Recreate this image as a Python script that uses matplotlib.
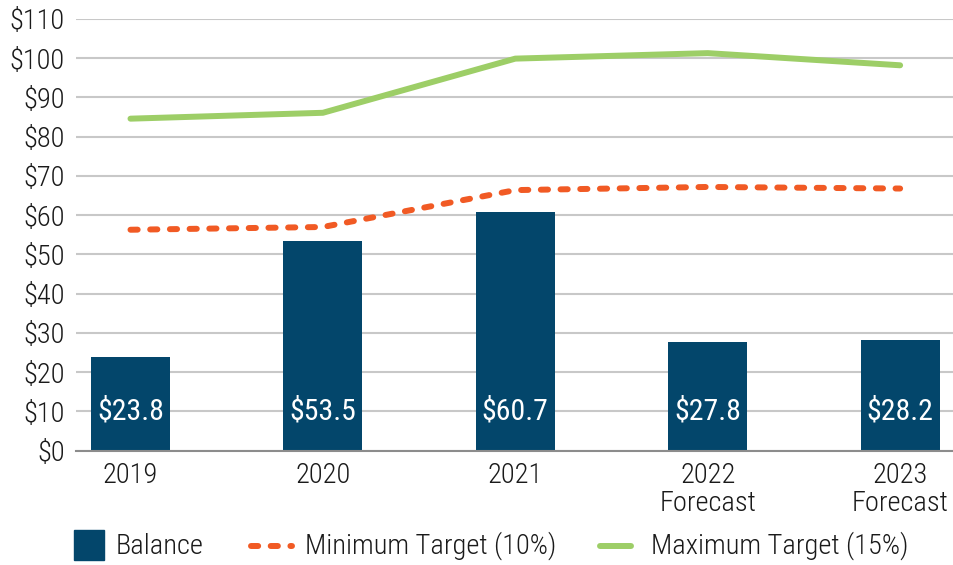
import matplotlib
matplotlib.use("Agg")
import matplotlib.pyplot as plt
from matplotlib.patches import Rectangle
from matplotlib.lines import Line2D

plt.rcParams['font.family'] = ['Liberation Sans Narrow', 'Roboto Condensed', 'Archivo Narrow', 'DejaVu Sans']
plt.rcParams['font.weight'] = 'light'

# data
years = ['2019', '2020', '2021', '2022\nForecast', '2023\nForecast']
balance = [23.8, 53.5, 60.7, 27.8, 28.2]
balance_labels = ['$23.8', '$53.5', '$60.7', '$27.8', '$28.2']
min_target = [56.3, 57.0, 66.4, 67.2, 66.8]
max_target = [84.6, 86.1, 99.9, 101.3, 98.2]
yticks = list(range(0, 111, 10))

navy = '#03466B'
orange = '#F15A24'
green = '#9DCE67'
fs = 20.5

fig = plt.figure(figsize=(9.54, 5.65), dpi=100)
ax = fig.add_axes([0.0797, 0.2023, 0.9203, 0.7641])

x = list(range(len(years)))
ax.bar(x, balance, width=0.41, color=navy, zorder=2)
for xi, v, lab in zip(x, balance, balance_labels):
    ax.text(xi, 10, lab, ha='center', va='center', color='white',
            fontsize=fs + 1, fontweight='normal', zorder=4)

ax.plot(x, min_target, color=orange, lw=4.3, dashes=(1.2, 2.1),
        dash_capstyle='round', zorder=3)
ax.plot(x, max_target, color=green, lw=4.3, solid_capstyle='round', zorder=3)

ax.set_ylim(0, 110)
ax.set_xlim(-0.283, 4.28)
ax.set_yticks(yticks)
ax.set_yticklabels(['$%d' % t for t in yticks], fontsize=fs, color='#1A1A1A')
ax.set_xticks(x)
ax.set_xticklabels(years, fontsize=fs, color='#1A1A1A', linespacing=1.08)
ax.tick_params(axis='both', length=0)
ax.tick_params(axis='y', pad=8)
ax.tick_params(axis='x', pad=8)
ax.yaxis.grid(True, color='#C8C8C8', lw=1.5, zorder=0)
ax.set_axisbelow(True)
for s in ['top', 'right', 'left']:
    ax.spines[s].set_visible(False)
ax.spines['bottom'].set_color('#8C8C8C')
ax.spines['bottom'].set_linewidth(1.5)

# legend drawn in figure pixels
W, H = 954, 565
def fx(px):
    return px / W
def fy(py):
    return 1 - py / H

ly = 546
fig.add_artist(Rectangle((fx(74), fy(560)), 30 / W, 30 / H, color=navy,
                         transform=fig.transFigure))
fig.text(fx(116), fy(ly), 'Balance', fontsize=fs, va='center', color='#1A1A1A')
fig.add_artist(Line2D([fx(251), fx(292)], [fy(ly), fy(ly)], color=orange, lw=4.3,
                      dashes=(1.2, 2.1), dash_capstyle='round',
                      transform=fig.transFigure))
fig.text(fx(305), fy(ly), 'Minimum Target (10%)', fontsize=fs, va='center', color='#1A1A1A')
fig.add_artist(Line2D([fx(600), fx(631)], [fy(ly), fy(ly)], color=green, lw=4.3,
                      solid_capstyle='round', transform=fig.transFigure))
fig.text(fx(651), fy(ly), 'Maximum Target (15%)', fontsize=fs, va='center', color='#1A1A1A')

fig.savefig('out.png', dpi=100)
